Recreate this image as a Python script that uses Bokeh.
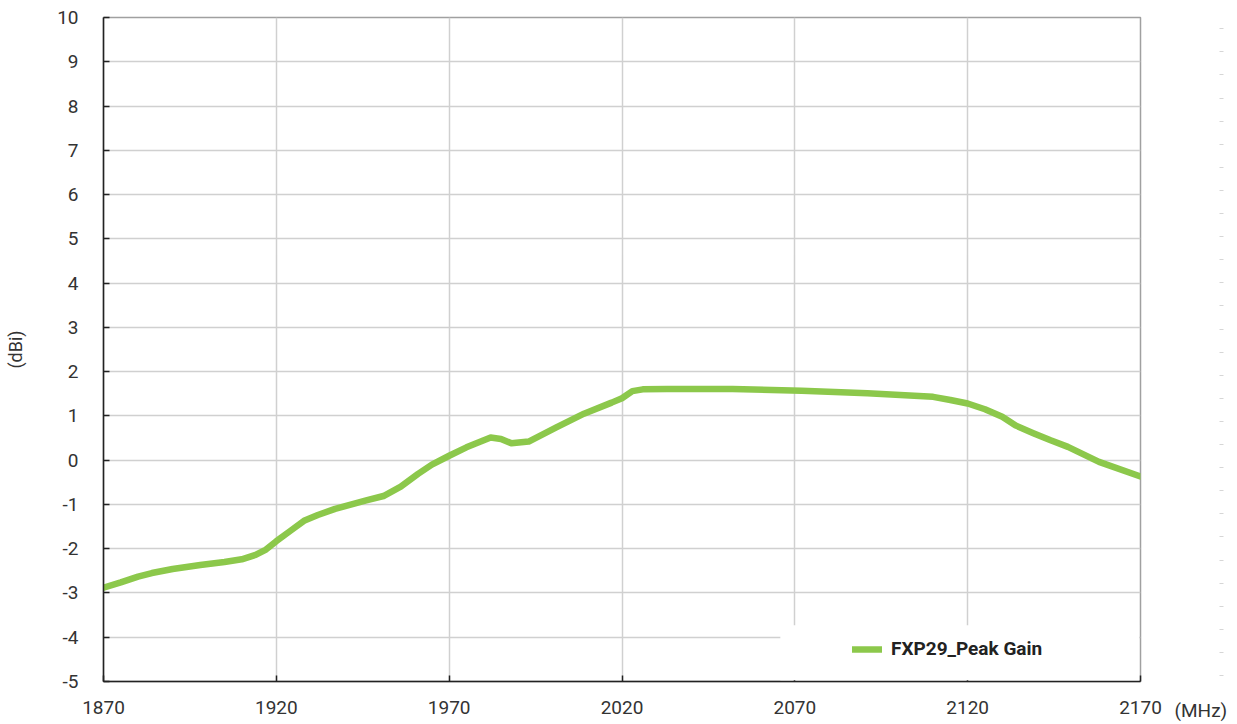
from bokeh.plotting import figure
from bokeh.models import (Range1d, FixedTicker, BoxAnnotation, LinearAxis)
from bokeh.embed import file_html
from bokeh.resources import INLINE

# ---- data ----
freq_mhz = [1870, 1875, 1880, 1884, 1890, 1898, 1905, 1910, 1914, 1917, 1920,
            1924, 1928, 1932, 1937, 1946, 1951, 1956, 1961, 1965, 1970, 1975,
            1982, 1985, 1988, 1993, 2001, 2009, 2017, 2020, 2023, 2026, 2033,
            2052, 2072, 2091, 2110, 2115, 2120, 2125, 2130, 2134, 2139, 2144,
            2149, 2158, 2170]
peak_gain_dbi = [-2.88, -2.76, -2.63, -2.55, -2.46, -2.37, -2.30, -2.24, -2.14,
                 -2.02, -1.83, -1.60, -1.37, -1.24, -1.10, -0.91, -0.81, -0.60,
                 -0.31, -0.10, 0.10, 0.29, 0.51, 0.48, 0.38, 0.42, 0.74, 1.05,
                 1.30, 1.40, 1.56, 1.60, 1.61, 1.61, 1.57, 1.51, 1.43, 1.36,
                 1.28, 1.15, 0.98, 0.78, 0.61, 0.45, 0.30, -0.04, -0.37]
series_name = "FXP29_Peak Gain"
x_ticks = [1870, 1920, 1970, 2020, 2070, 2120, 2170]
y_ticks = [-5, -4, -3, -2, -1, 0, 1, 2, 3, 4, 5, 6, 7, 8, 9, 10]
x_unit = "(MHz)"
y_unit = "(dBi)"

FONT = "Roboto"
TXT = "#333333"
GREEN = "#8cc84b"

p = figure(width=1237, height=724, output_backend="svg", toolbar_location=None,
           x_range=Range1d(1870, 2170), y_range=Range1d(-5, 10),
           min_border_left=103, min_border_right=97, min_border_top=17,
           min_border_bottom=43)
p.background_fill_color = "white"
p.border_fill_color = "white"
p.outline_line_color = "#a0a0a0"
p.outline_line_width = 1.5

# axes
for ax in (p.xaxis[0], p.yaxis[0]):
    ax.axis_line_color = "#222222"
    ax.axis_line_width = 1.5
    ax.major_tick_line_color = "#222222"
    ax.major_tick_line_width = 1.5
    ax.major_tick_in = 6
    ax.major_tick_out = 0
    ax.minor_tick_line_color = None
    ax.major_label_text_font = FONT
    ax.major_label_text_font_size = "19px"
    ax.major_label_text_color = TXT

p.xaxis.ticker = FixedTicker(ticks=x_ticks)
p.yaxis.ticker = FixedTicker(ticks=y_ticks)
p.xaxis.major_label_overrides = {t: str(t) for t in x_ticks}
p.yaxis.major_label_overrides = {t: str(t) for t in y_ticks}
p.xaxis.major_label_standoff = 19
p.yaxis.major_label_standoff = 25
p.yaxis.axis_label = y_unit
p.yaxis.axis_label_text_font = FONT
p.yaxis.axis_label_text_font_style = "normal"
p.yaxis.axis_label_text_font_size = "18px"
p.yaxis.axis_label_text_color = TXT
p.yaxis.axis_label_standoff = 28

# unit label to the right of the last x tick, on the baseline of the x labels
unit_axis = LinearAxis(ticker=FixedTicker(ticks=[y_ticks[0]]),
                       major_label_overrides={y_ticks[0]: "\n\n" + x_unit})
unit_axis.axis_line_color = None
unit_axis.major_tick_line_color = None
unit_axis.minor_tick_line_color = None
unit_axis.major_label_standoff = 28
unit_axis.major_label_text_font = FONT
unit_axis.major_label_text_font_size = "19px"
unit_axis.major_label_text_color = TXT
unit_axis.major_label_text_line_height = 1.27
p.add_layout(unit_axis, "right")

# faint dash column at the far right of the page (decoration)
dash_ticks = [10 - (11.3 + 23.1 * k) / 44.27 for k in range(29)]
dash_axis = LinearAxis(ticker=FixedTicker(ticks=dash_ticks),
                       major_label_overrides={t: "" for t in dash_ticks})
dash_axis.axis_line_color = None
dash_axis.minor_tick_line_color = None
dash_axis.major_tick_line_color = "#d6d6d6"
dash_axis.major_tick_line_width = 1
dash_axis.major_tick_in = 11
dash_axis.major_tick_out = -7
dash_axis.major_label_standoff = 0
p.add_layout(dash_axis, "right")

# grid
p.xgrid.grid_line_color = "#d0d0d0"
p.ygrid.grid_line_color = "#d0d0d0"
p.xgrid.grid_line_width = 1.5
p.ygrid.grid_line_width = 1.5

# white legend panel covering the grid
p.add_layout(BoxAnnotation(left=2065.8, right=2169.6, bottom=-4.97, top=-3.73,
                           fill_color="white", fill_alpha=1.0,
                           line_color=None))

p.line(freq_mhz, peak_gain_dbi, line_color=GREEN, line_width=6.5,
       line_join="round", line_cap="round", legend_label=series_name)

lg = p.legend[0]
lg.location = (749, 21)
lg.padding = 0
lg.margin = 0
lg.spacing = 0
lg.glyph_width = 30
lg.glyph_height = 20
lg.label_height = 20
lg.label_standoff = 9
lg.label_text_font = FONT
lg.label_text_font_style = "bold"
lg.label_text_font_size = "19px"
lg.label_text_color = "#222222"
lg.background_fill_alpha = 0
lg.border_line_alpha = 0

open("out.html", "w").write(file_html(p, INLINE))
